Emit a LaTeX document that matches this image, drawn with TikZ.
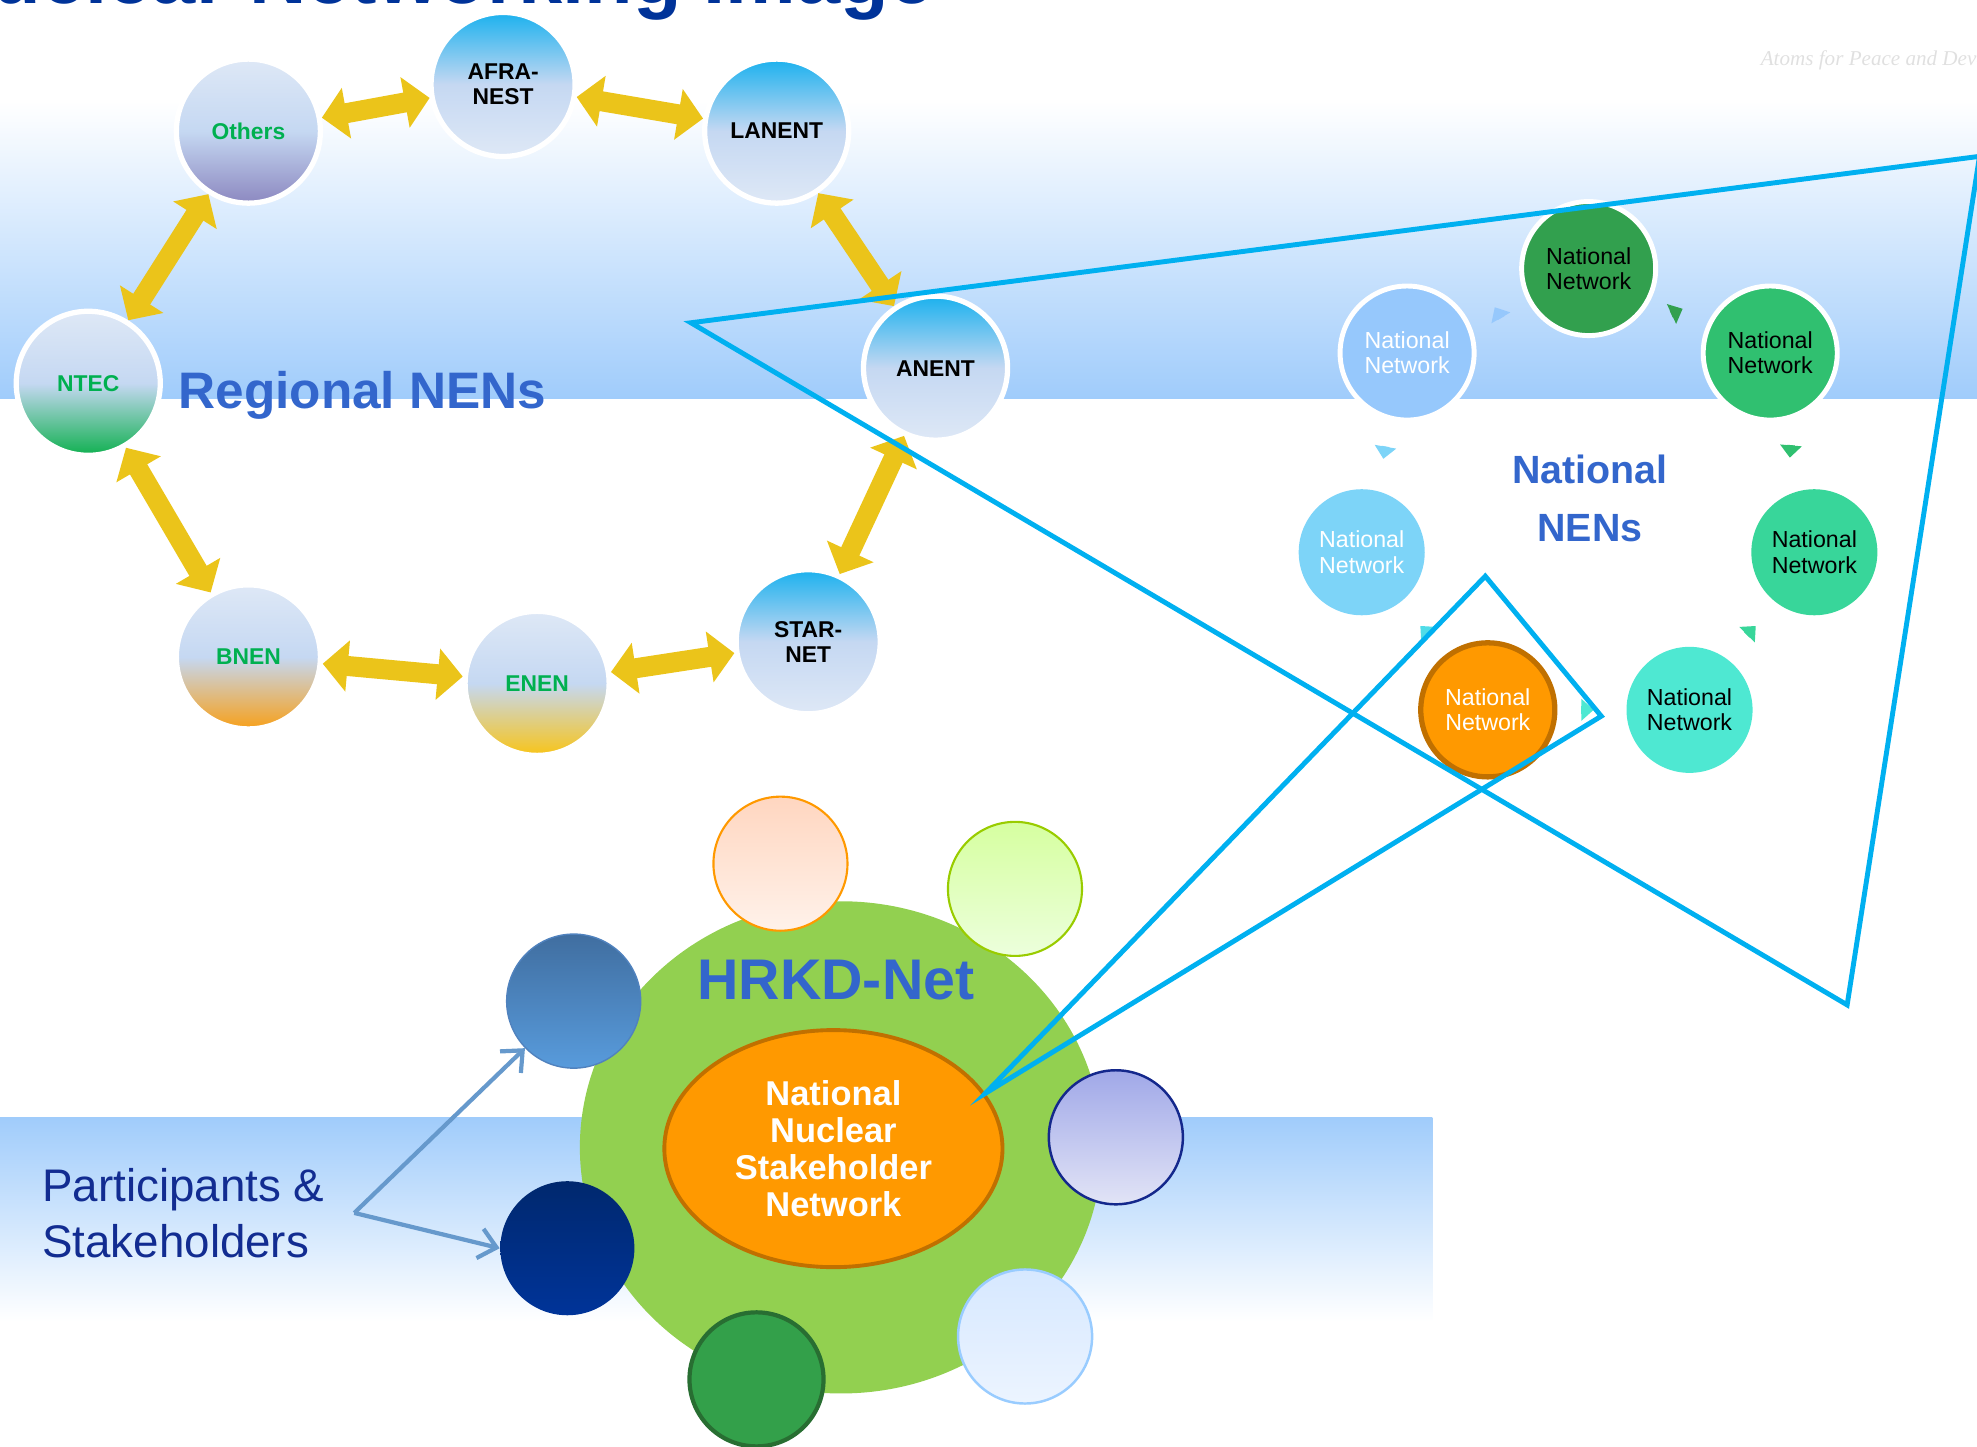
\documentclass[tikz,border=0pt]{standalone}
\usepackage{fontspec}
\setmainfont{Liberation Sans}
\newfontfamily\mottofont{Liberation Serif}
\usetikzlibrary{arrows.meta,shapes.geometric}
\definecolor{bandblue}{RGB}{160,204,251}
\definecolor{titleblue}{RGB}{0,51,153}
\definecolor{nenblue}{RGB}{51,102,204}
\definecolor{arrowgold}{RGB}{235,196,26}
\definecolor{calloutblue}{RGB}{0,176,240}
\definecolor{regtop}{RGB}{27,177,238}
\definecolor{regmid}{RGB}{197,216,242}
\definecolor{reglow}{RGB}{222,232,246}
\definecolor{otherspurple}{RGB}{140,136,192}
\definecolor{ntecgreen}{RGB}{16,176,80}
\definecolor{bnenorange}{RGB}{247,160,26}
\definecolor{enenyellow}{RGB}{248,196,24}
\definecolor{labelgreen}{RGB}{0,176,80}
\definecolor{natdkgreen}{RGB}{50,160,78}
\definecolor{natgreen}{RGB}{48,192,112}
\definecolor{natlightblue}{RGB}{150,200,252}
\definecolor{natskyblue}{RGB}{125,212,248}
\definecolor{natteal}{RGB}{56,214,154}
\definecolor{natturq}{RGB}{78,232,210}
\definecolor{natcyan}{RGB}{80,220,232}
\definecolor{natorange}{RGB}{255,153,0}
\definecolor{natbrown}{RGB}{192,112,0}
\definecolor{hrkdgreen}{RGB}{146,208,80}
\definecolor{partblue}{RGB}{18,44,145}
\definecolor{forkblue}{RGB}{102,153,204}

\begin{document}
\begin{tikzpicture}[x=0.01261cm,y=-0.01261cm,
    regnen/.style={circle,draw=white,line width=1.5pt,minimum size=1.44cm,inner sep=0pt,align=center,font=\fontsize{6.5}{7.2}\selectfont\bfseries},
    skytop/.style={top color=regtop,bottom color=reglow,middle color=regmid},
    lowshade/.style={top color=reglow,bottom color=#1,middle color=regmid},
    natnet/.style={circle,fill=#1,minimum size=1.26cm,inner sep=0pt,align=center,font=\fontsize{6.6}{7.2}\selectfont},
    natring/.style={natnet=#1,draw=white,line width=1.4pt,minimum size=1.34cm},
    sat/.style={circle,minimum size=1.34cm,inner sep=0pt},
    goldarrow/.style={draw=arrowgold,line width=0.2cm,{Triangle[length=0.25cm,width=0.5cm]}-{Triangle[length=0.25cm,width=0.5cm]}},
    tinyarr/.style={line width=2.2pt,-{Triangle[length=3.5pt,width=6pt]}},
    forkarrow/.style={draw=forkblue,line width=1.2pt,-{Straight Barb[length=0.17cm,width=0.3cm]}},
    callout/.style={draw=calloutblue,line width=1.4pt}]
    \useasboundingbox (0,0) rectangle (1568,1147.5);
    \clip (0,0) rectangle (1568,1147.5);
    \shade[top color=white,bottom color=bandblue] (0,80) rectangle (1568,316);
    \shade[top color=bandblue,bottom color=white] (0,886) rectangle (1136,1048);
    \node[anchor=base east,inner sep=0pt,text=titleblue,font=\fontsize{22.6}{24}\selectfont\bfseries] (title) at (741,3) {Nuclear Networking Image};
    \node[anchor=base west,inner sep=0pt,text=black!12,font=\mottofont\itshape\fontsize{6}{7}\selectfont] (motto) at (1396,52) {Atoms for Peace and Development};

    \node[regnen,skytop] (afranest) at (399,67) {AFRA-\\NEST};
    \node[regnen,lowshade=otherspurple,text=labelgreen] (others) at (197,104) {Others};
    \node[regnen,skytop] (lanent) at (616,104) {LANENT};
    \node[regnen,lowshade=ntecgreen,text=labelgreen] (ntec) at (70,304) {NTEC};
    \node[regnen,skytop] (anent) at (742,292) {ANENT};
    \node[regnen,lowshade=bnenorange,text=labelgreen] (bnen) at (197,521) {BNEN};
    \node[regnen,lowshade=enenyellow,text=labelgreen] (enen) at (426,542) {ENEN};
    \node[regnen,skytop] (starnet) at (641,509) {STAR-\\NET};
    \draw[goldarrow] (others) -- (afranest);
    \draw[goldarrow] (afranest) -- (lanent);
    \draw[goldarrow] (lanent) -- (anent);
    \draw[goldarrow] (anent) -- (starnet);
    \draw[goldarrow] (starnet) -- (enen);
    \draw[goldarrow] (enen) -- (bnen);
    \draw[goldarrow] (bnen) -- (ntec);
    \draw[goldarrow] (ntec) -- (others);
    \node[anchor=base west,inner sep=0pt,text=nenblue,font=\fontsize{14.6}{16}\selectfont\bfseries] (regtitle) at (141,324) {Regional NENs};

    \node[natring=natdkgreen] (natA) at (1260,213) {National\\Network};
    \node[natring=natlightblue,text=white] (natB) at (1116,280) {National\\Network};
    \node[natring=natgreen] (natC) at (1404,280) {National\\Network};
    \node[natnet=natskyblue,text=white] (natD) at (1080,438) {National\\Network};
    \node[natnet=natteal] (natE) at (1439,438) {National\\Network};
    \node[natnet=natorange,draw=natbrown,line width=1.5pt,minimum size=1.34cm,text=white] (natF) at (1180,563) {National\\Network};
    \node[natnet=natturq] (natG) at (1340,563) {National\\Network};
    \foreach \px/\py/\a/\c in {1188/248/-120/natlightblue,1330/247/-25/natdkgreen,1098/359/100/natskyblue,1420/358/95/natgreen,1130/500/-135/natcyan,1389/500/-45/natteal,1259/563/0/natturq}
        \draw[tinyarr,\c] (\px,\py) ++(\a:-5) -- ++(\a:10);
    \node[inner sep=0pt,align=center,text=nenblue,font=\fontsize{11.2}{16.5}\selectfont\bfseries] (nattitle) at (1261,395) {National\\NENs};

    \node[ellipse,fill=hrkdgreen,minimum width=5.22cm,minimum height=4.92cm,inner sep=0pt] (hrkd) at (667,910) {};
    \node[ellipse,fill=natorange,draw=natbrown,line width=1.1pt,minimum width=3.38cm,minimum height=2.37cm,inner sep=0pt,align=center,text=white,font=\fontsize{9.8}{10.6}\selectfont\bfseries] (nnsn) at (661,911) {National\\Nuclear\\Stakeholder\\Network};
    \node[anchor=base,inner sep=0pt,text=nenblue,font=\fontsize{16.3}{18}\selectfont\bfseries] (hrkdlabel) at (663,793) {HRKD-Net};
    \node[sat,top color={rgb,255:red,255;green,214;blue,192},bottom color={rgb,255:red,255;green,242;blue,234},draw=natorange,line width=0.6pt] (peach) at (619,685) {};
    \node[sat,top color={rgb,255:red,214;green,255;blue,160},bottom color={rgb,255:red,236;green,255;blue,220},draw={rgb,255:red,153;green,204;blue,0},line width=0.6pt] (lime) at (805,705) {};
    \node[sat,top color={rgb,255:red,64;green,110;blue,160},bottom color={rgb,255:red,88;green,155;blue,220},draw={rgb,255:red,80;green,130;blue,190},line width=0.4pt] (steel) at (455,794) {};
    \node[sat,top color={rgb,255:red,160;green,168;blue,232},bottom color={rgb,255:red,226;green,228;blue,246},draw={rgb,255:red,20;green,40;blue,140},line width=0.7pt] (lavender) at (885,902) {};
    \node[sat,top color={rgb,255:red,0;green,40;blue,110},bottom color={rgb,255:red,0;green,52;blue,153}] (navy) at (450,990) {};
    \node[sat,top color={rgb,255:red,214;green,232;blue,255},bottom color={rgb,255:red,236;green,244;blue,255},draw={rgb,255:red,153;green,204;blue,255},line width=0.7pt] (pale) at (813,1060) {};
    \node[sat,fill={rgb,255:red,51;green,160;blue,74},draw={rgb,255:red,40;green,110;blue,50},line width=1.2pt] (leaf) at (600,1094) {};

    \node[anchor=west,inner sep=0pt,align=left,text=partblue,font=\fontsize{13}{16}\selectfont] (parts) at (33,962) {Participants \&\\Stakeholders};
    \coordinate (fork) at (281,962);
    \draw[forkarrow] (fork) -- (steel);
    \draw[forkarrow] (fork) -- (navy.west);

    \coordinate (apexL) at (548,256);
    \coordinate (apexR) at (1570,124);
    \coordinate (apexB) at (1465,797);
    \draw[callout] (apexL) -- (apexR) -- (apexB) -- cycle;
    \coordinate (zoomtop) at (1178,457);
    \coordinate (zoomside) at (1270,568);
    \draw[callout] (nnsn.20) -- (zoomtop) -- (zoomside) -- cycle;
\end{tikzpicture}
\end{document}
